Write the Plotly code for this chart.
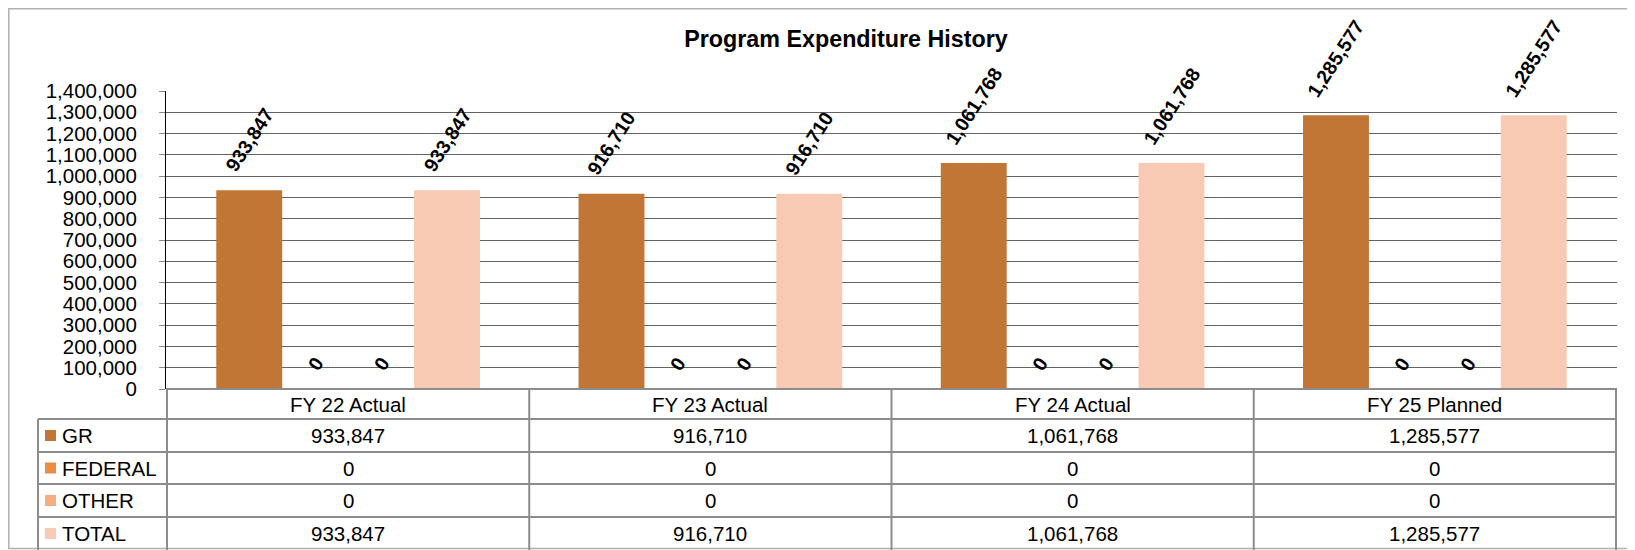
import plotly.graph_objects as go

# chart data
categories = ['FY 22 Actual', 'FY 23 Actual', 'FY 24 Actual', 'FY 25 Planned']
series_names = ['GR', 'FEDERAL', 'OTHER', 'TOTAL']
gr = [933847, 916710, 1061768, 1285577]
federal = [0, 0, 0, 0]
other = [0, 0, 0, 0]
total = [933847, 916710, 1061768, 1285577]

SERIES_COLORS = ['#C27636', '#EB8D45', '#F6AE80', '#F8CAB3']
FONT = 'Liberation Sans, Arial, sans-serif'
TABLE_LINE = '#8c8c8c'

# the page body adds an 8px margin, so the figure is a bit smaller than the window
PAGE_OFF = 8
W, H = 1635 - PAGE_OFF, 550 - PAGE_OFF
PLOT_X0, PLOT_X1 = 166, 1617   # page pixels of the plot area
PLOT_Y0, PLOT_Y1 = 91, 389
L, R = PLOT_X0 - PAGE_OFF, 1635 - PLOT_X1
T, B = PLOT_Y0 - PAGE_OFF, 550 - PLOT_Y1
PLOT_W = PLOT_X1 - PLOT_X0
PLOT_H = PLOT_Y1 - PLOT_Y0
BARGAP = 0.272


def px_x(px):
    return (px - PLOT_X0) / PLOT_W


def px_y(py):
    return (PLOT_Y1 - py) / PLOT_H


series = [gr, federal, other, total]

fig = go.Figure()
for name, vals, color in zip(series_names, series, SERIES_COLORS):
    fig.add_trace(go.Bar(
        x=categories, y=vals, name=name,
        marker=dict(color=color, line=dict(width=0)),
        hoverinfo='x+y'
    ))

# rotated value labels above each bar
bar_px = PLOT_W / len(categories) * (1 - BARGAP) / len(series)
annotations = []
for k, vals in enumerate(series):
    for cat, v in zip(categories, vals):
        annotations.append(dict(
            x=cat, y=v, xref='x', yref='y', text=f'{v:,}',
            showarrow=False, textangle=-57,
            xshift=(k - (len(series) - 1) / 2) * bar_px, yshift=12,
            yanchor='bottom', xanchor='center',
            font=dict(family=FONT, size=19.5, color='black', weight='bold')
        ))

# data table under the chart
row_edges = [389, 419, 452, 484, 517, 550]
shapes = []
for i, py in enumerate(row_edges[:-1]):
    x0 = px_x(38) if i > 0 else 0
    shapes.append(dict(type='line', xref='paper', yref='paper',
                       x0=x0, x1=1, y0=px_y(py), y1=px_y(py),
                       line=dict(color=TABLE_LINE, width=2)))
# column separators follow the category axis
for j in range(len(categories) + 1):
    shapes.append(dict(type='line', xref='x', yref='paper',
                       x0=j - 0.5, x1=j - 0.5, y0=px_y(row_edges[0]), y1=px_y(row_edges[-1]),
                       line=dict(color=TABLE_LINE, width=2)))
shapes.append(dict(type='line', xref='paper', yref='paper',
                   x0=px_x(38), x1=px_x(38), y0=px_y(row_edges[1]), y1=px_y(row_edges[-1]),
                   line=dict(color=TABLE_LINE, width=2)))
# outer chart border
shapes.append(dict(type='rect', xref='paper', yref='paper',
                   x0=px_x(8.8), x1=px_x(1645), y0=px_y(548.5), y1=px_y(8.8),
                   line=dict(color='#b0b0b0', width=1.5), layer='below'))

cell_font = dict(family=FONT, size=20.5, color='black')
header_y = px_y((row_edges[0] + row_edges[1]) / 2)
for cat in categories:
    annotations.append(dict(x=cat, y=header_y, xref='x', yref='paper', text=cat,
                            xanchor='center', yanchor='middle',
                            showarrow=False, font=cell_font))
for i, (name, vals, color) in enumerate(zip(series_names, series, SERIES_COLORS)):
    cy = (row_edges[i + 1] + row_edges[i + 2]) / 2
    shapes.append(dict(type='rect', xref='paper', yref='paper',
                       x0=px_x(45), x1=px_x(56), y0=px_y(cy + 5.5), y1=px_y(cy - 5.5),
                       fillcolor=color, line=dict(width=0)))
    annotations.append(dict(x=px_x(60), y=px_y(cy), xref='paper', yref='paper', text=name,
                            xanchor='left', yanchor='middle', showarrow=False, font=cell_font))
    for cat, v in zip(categories, vals):
        annotations.append(dict(x=cat, y=px_y(cy), xref='x', yref='paper', text=f'{v:,}',
                                xanchor='center', yanchor='middle',
                                showarrow=False, font=cell_font))

fig.update_layout(
    width=W, height=H,
    margin=dict(l=L, r=R, t=T, b=B),
    paper_bgcolor='white', plot_bgcolor='white',
    barmode='group', bargap=BARGAP, bargroupgap=0,
    showlegend=False,
    font=dict(family=FONT, color='black'),
    title=dict(text='<b>Program Expenditure History</b>',
               x=(846 - PAGE_OFF) / W, y=1 - (39 - PAGE_OFF) / H,
               xanchor='center', yanchor='middle',
               font=dict(family=FONT, size=23.3, color='black')),
    xaxis=dict(showticklabels=False, showgrid=False, zeroline=False, showline=False),
    yaxis=dict(range=[0, 1400000], dtick=100000, tickformat=',',
               tickfont=dict(family=FONT, size=20.5, color='black'),
               showgrid=True, gridcolor='#636363', gridwidth=1,
               zeroline=False, showline=True, linecolor='black', linewidth=1,
               ticks='outside', ticklen=6, tickcolor='#8c8c8c',
               ticklabelstandoff=18),
    shapes=shapes,
    annotations=annotations,
)

fig.write_html('out.html')
